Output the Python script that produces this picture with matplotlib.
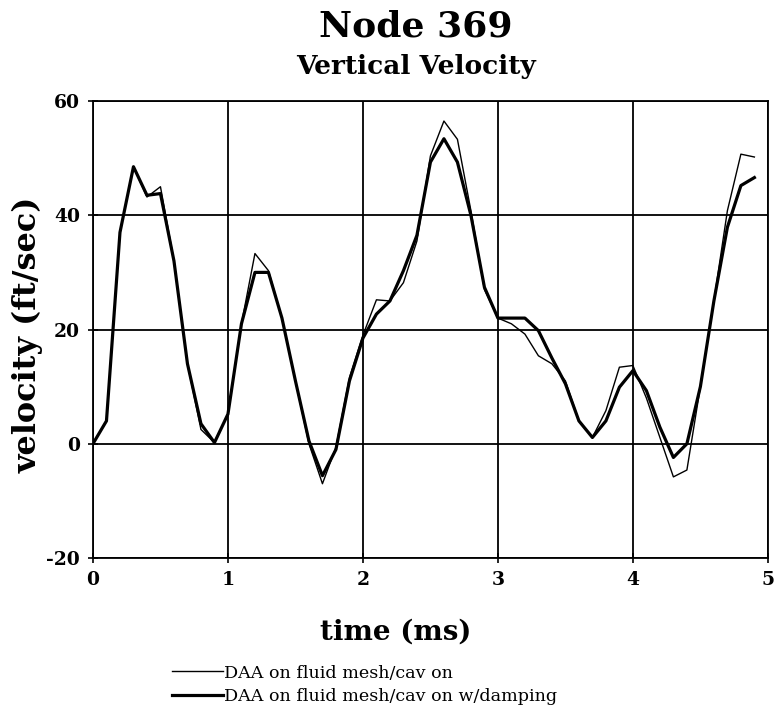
import matplotlib.pyplot as plt
import numpy as np

plt.rcParams['axes.unicode_minus'] = False

# time in ms, sampled every 0.1 ms
time_ms = np.arange(50) * 0.1

vel_cav = [0, 4, 37, 48.5, 43.2, 45, 32, 14, 2.5, 0.2,
           5.2, 21, 33.3, 30.3, 22, 11, 0, -7, -0.6, 11.6,
           19, 25.2, 25, 28.2, 35.5, 50.4, 56.5, 53.3, 40.8, 27,
           22, 21, 19.2, 15.4, 14, 11, 4, 1.1, 5.8, 13.4,
           13.7, 8, 1.1, -5.8, -4.6, 10, 25, 40.8, 50.7, 50.2]

vel_damp = [0, 4, 37, 48.5, 43.5, 43.8, 32, 14, 3.5, 0.2,
            5.2, 21, 30, 30, 22, 11, 0.5, -5.6, -1, 11,
            18.5, 22.7, 25, 30.3, 36.5, 49.3, 53.4, 49.3, 40, 27.4,
            22, 22, 22, 19.8, 15, 10.5, 4, 1.1, 4, 9.9,
            12.8, 9.3, 2.9, -2.4, 0, 10, 25, 37.9, 45.2, 46.6]

labels = ['DAA on fluid mesh/cav on', 'DAA on fluid mesh/cav on w/damping']

serif = 'DejaVu Serif'

fig = plt.figure(figsize=(7.78, 7.13), dpi=100)
ax = fig.add_axes([0.1195, 0.2174, 0.8675, 0.6409])

l1, = ax.plot(time_ms, vel_cav, color='black', lw=1.0)
l2, = ax.plot(time_ms, vel_damp, color='black', lw=2.3)

ax.set_xlim(0, 5)
ax.set_ylim(-20, 60)
ax.set_xticks([0, 1, 2, 3, 4, 5])
ax.set_yticks([-20, 0, 20, 40, 60])
ax.grid(True, color='black', lw=1.3)
for s in ax.spines.values():
    s.set_linewidth(1.3)
ax.tick_params(direction='inout', length=7, width=1.2, labelsize=13.5, pad=6)
for t in ax.get_xticklabels() + ax.get_yticklabels():
    t.set_family(serif)
    t.set_fontweight('bold')

# axis titles placed by hand
fig.text(0.508, 0.1136, 'time (ms)', ha='center', va='center',
         family=serif, fontweight='bold', fontsize=20)
fig.text(0.036, 0.530, 'velocity (ft/sec)', ha='center', va='center', rotation=90,
         family=serif, fontweight='bold', fontsize=23)

fig.text(0.535, 0.963, 'Node 369', ha='center', va='center',
         family=serif, fontweight='bold', fontsize=26)
fig.text(0.535, 0.907, 'Vertical Velocity', ha='center', va='center',
         family=serif, fontweight='bold', fontsize=19)

leg = fig.legend([l1, l2], labels, loc='upper left', bbox_to_anchor=(0.221, 0.068),
                 frameon=False, handlelength=2.9, handletextpad=0.1, labelspacing=0.35,
                 borderpad=0, borderaxespad=0,
                 prop={'family': serif, 'size': 12.6})

fig.savefig('out.png', dpi=100)
